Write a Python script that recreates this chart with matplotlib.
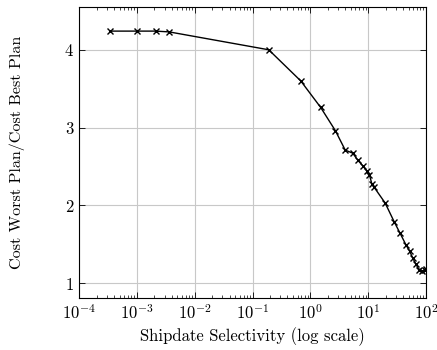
import numpy as np
import matplotlib
matplotlib.use("Agg")
import matplotlib.pyplot as plt
from matplotlib.ticker import LogLocator, NullFormatter

plt.rcParams['font.family'] = 'serif'
plt.rcParams['font.serif'] = ['cmr10']
plt.rcParams['mathtext.fontset'] = 'cm'
plt.rcParams['axes.formatter.use_mathtext'] = True

# selectivity (%) vs cost ratio
selectivity = [3.4e-4, 1.0e-3, 2.1e-3, 3.6e-3, 0.19, 0.68, 1.5, 2.7, 4.0, 5.4,
               6.6, 8.0, 9.5, 10.5, 11.5, 12.7, 19.6, 28, 35, 45, 52, 59, 67,
               76, 85, 94, 100]
cost_ratio = [4.24, 4.24, 4.24, 4.23, 4.00, 3.60, 3.26, 2.96, 2.71, 2.67,
              2.58, 2.51, 2.44, 2.39, 2.28, 2.23, 2.03, 1.79, 1.65, 1.49, 1.41,
              1.32, 1.24, 1.17, 1.15, 1.17, 1.18]

fig = plt.figure(figsize=(4.37, 3.5), dpi=100)
ax = fig.add_axes([0.181, 0.149, 0.794, 0.831])

ax.plot(selectivity, cost_ratio, color='black', lw=1.0, marker='x',
        markersize=4, markeredgewidth=1.0)

ax.set_xscale('log')
ax.set_xlim(1e-4, 1e2)
ax.set_ylim(0.81, 4.55)
ax.set_yticks([1, 2, 3, 4])
ax.xaxis.set_major_locator(LogLocator(base=10, numticks=10))
ax.xaxis.set_minor_locator(LogLocator(base=10, subs=np.arange(2, 10), numticks=20))
ax.xaxis.set_minor_formatter(NullFormatter())

ax.grid(True, which='major', color='#c8c8c8', lw=0.8)
ax.set_axisbelow(True)
ax.tick_params(which='both', direction='in', top=True, right=True, labelsize=12)
ax.tick_params(which='major', length=4, width=0.6)
ax.tick_params(which='minor', length=2.2, width=0.5)
for s in ax.spines.values():
    s.set_linewidth(0.8)

ax.set_xlabel('Shipdate Selectivity (log scale)', fontsize=12)
ax.set_ylabel('Cost Worst Plan/Cost Best Plan', fontsize=11.6, labelpad=28)

fig.savefig('out.png', dpi=100)
